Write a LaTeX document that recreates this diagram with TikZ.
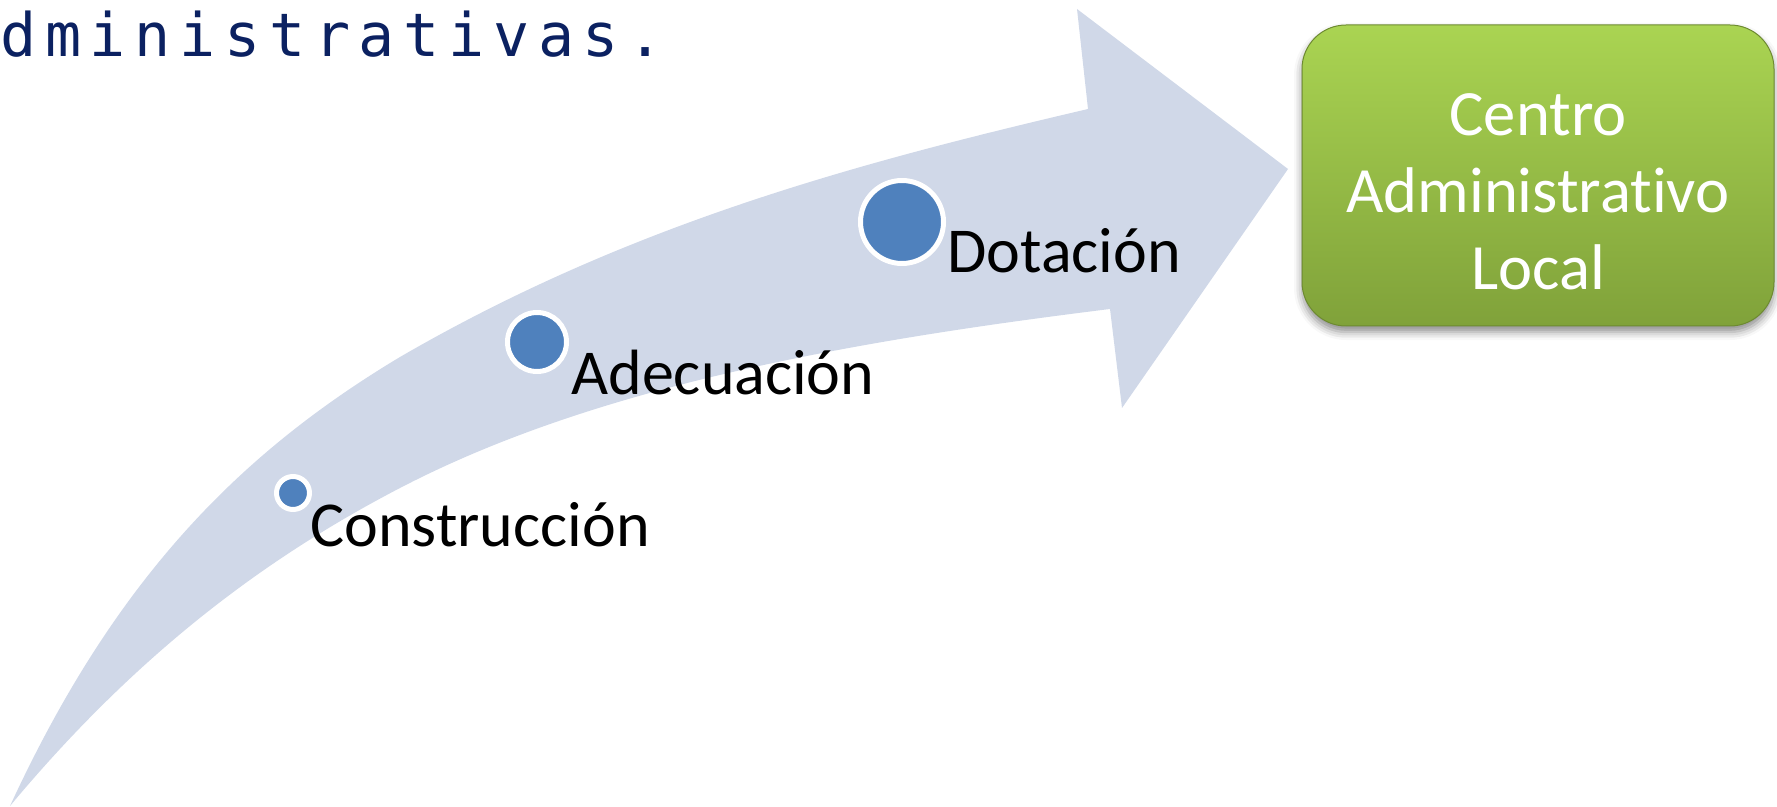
\documentclass[tikz,border=0pt]{standalone}
\usepackage{fontspec}
\setmainfont{Carlito}[Ligatures=NoCommon]
\newfontfamily\monofont[LetterSpace=14.5]{DejaVu Sans Mono}
\usetikzlibrary{shadows.blur}
\definecolor{bandblue}{HTML}{D0D8E8}
\definecolor{dotblue}{HTML}{4F81BD}
\definecolor{greentop}{HTML}{AAD452}
\definecolor{greenbot}{HTML}{80A23A}
\definecolor{navy}{HTML}{0B2161}

\begin{document}
\begin{tikzpicture}[x=0.5pt,y=-0.5pt,
    dot/.style={circle,fill=dotblue,draw=white,line width=2.5pt,inner sep=0pt},
    stage/.style={anchor=base west,inner sep=0pt,font=\fontsize{32}{36}\selectfont}]
  \useasboundingbox (0,0) rectangle (1777,807);
  % curved arrow
  \fill[bandblue] (10,806) .. controls (115,578.5) and (240,453) .. (400,357)
    .. controls (630,223.6) and (858,162.8) .. (1088,109)
    -- (1077,9) -- (1288,169) -- (1122,408) -- (1110,309)
    .. controls (860,340) and (600,384) .. (400,488)
    .. controls (270,555.6) and (140,650) .. (10,806) -- cycle;
  % cut-off title
  \node (title) at (0,57) [anchor=base west,inner sep=0pt,text=navy,font=\monofont\fontsize{30}{36}\selectfont] {dministrativas.};
  % stages
  \node (dot1) at (293,493) [dot,minimum size=16.5pt] {};
  \node (dot2) at (537,342) [dot,minimum size=29.5pt] {};
  \node (dot3) at (902,222) [dot,minimum size=41.5pt] {};
  \node (construccion) at (310,546) [stage] {Construcción};
  \node (adecuacion) at (571,395) [stage] {Adecuación};
  \node (dotacion) at (947,273) [stage] {Dotación};
  % goal box
  \node (centro) at (1538,175.5) [rectangle,rounded corners=22pt,minimum width=236pt,minimum height=150.5pt,
    top color=greentop,bottom color=greenbot,draw=greenbot!85!black,line width=0.5pt,
    blur shadow={shadow xshift=0pt,shadow yshift=-3pt,shadow blur radius=4pt,shadow opacity=45}] {};
  \node (centrotxt) at ([yshift=-8pt]centro.center) [text=white,align=center,inner sep=0pt,
    font=\fontsize{32.3}{38.5}\selectfont] {Centro\\Administrativo\\Local};
\end{tikzpicture}
\end{document}
